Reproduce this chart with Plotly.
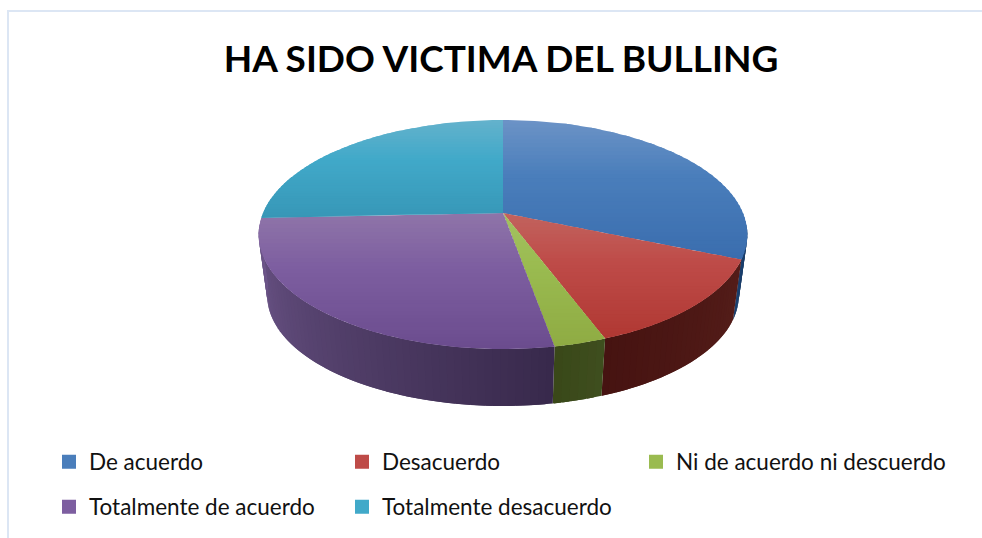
import math
import plotly.graph_objects as go

# ---- data ----
categories = ["De acuerdo", "Desacuerdo", "Ni de acuerdo ni descuerdo",
              "Totalmente de acuerdo", "Totalmente desacuerdo"]
values = [31.4, 12.9, 2.9, 27.1, 25.7]
title_text = "HA SIDO VICTIMA DEL BULLING"

# ---- styles ----
top_light = ["#6C93C6", "#C2635E", "#A3C162", "#8F75A9", "#64B2CC"]
top_mid = ["#4A7EBB", "#BE4B48", "#9ABB50", "#7D5EA0", "#41A9C9"]
top_dark = ["#3A6DAE", "#B03833", "#8FAB43", "#6B4C8E", "#3797B7"]
side_a = ["#16365C", "#541D19", "#3F4E1E", "#38294C", "#205867"]   # rim shade at the start of the slice
side_b = ["#1B4070", "#461311", "#394819", "#6D5689", "#205867"]   # rim shade at the end of the slice
frame_color = "#DCE6F4"
legend_x_px = [49, 342, 636, 49, 342]
legend_y_px = [462, 462, 462, 507, 507]

# ---- projection of the disc ----
CX, R, B = 503.0, 240.0, 0.188
TOP = dict(y0=213.0, a=110.5, r=R)
BOT = dict(y0=274.7, a=106.6, r=R * 0.965)


def project(theta_deg, face):
    t = math.radians(theta_deg)
    u, v = math.sin(t), -math.cos(t)
    d = 1 - B * v
    return CX + face["r"] * u / d, face["y0"] + face["a"] * v / d


def hex_rgb(c):
    return tuple(int(c[i:i + 2], 16) for i in (1, 3, 5))


def mix(c1, c2, t):
    a, b = hex_rgb(c1), hex_rgb(c2)
    return "rgb(%d,%d,%d)" % tuple(round(a[i] + (b[i] - a[i]) * t) for i in range(3))


def clip_y(poly, lo, hi):
    def clip(pts, keep, cut):
        out = []
        for i, p in enumerate(pts):
            q = pts[(i + 1) % len(pts)]
            if keep(p):
                out.append(p)
            if keep(p) != keep(q):
                f = (cut - p[1]) / (q[1] - p[1])
                out.append((p[0] + (q[0] - p[0]) * f, cut))
        return out
    res = clip(poly, lambda p: p[1] >= lo, lo)
    if res:
        res = clip(res, lambda p: p[1] <= hi, hi)
    return res


def patch(pts, color):
    xs = [p[0] for p in pts] + [pts[0][0]]
    ys = [p[1] for p in pts] + [pts[0][1]]
    return go.Scatter(x=xs, y=ys, mode="lines", fill="toself", fillcolor=color,
                      line=dict(width=0), hoverinfo="skip", showlegend=False)


total = sum(values)
bounds = [0.0]
for val in values:
    bounds.append(bounds[-1] + val / total * 360)

fig = go.Figure()

# rim
for i in range(len(values)):
    lo, hi = max(bounds[i], 96.0), min(bounds[i + 1], 264.0)
    if hi <= lo:
        continue
    steps = max(2, int((hi - lo) / 1.5))
    for k in range(steps):
        t0 = lo + (hi - lo) * k / steps
        t1 = min(hi, lo + (hi - lo) * (k + 1) / steps + 1.5)
        color = mix(side_a[i], side_b[i], (k + 0.5) / steps)
        fig.add_trace(patch([project(t0, TOP), project(t1, TOP),
                             project(t1, BOT), project(t0, BOT)], color))

# upper face
for i in range(len(values)):
    span = bounds[i + 1] - bounds[i]
    n = max(4, int(span))
    poly = [(CX, TOP["y0"])] + [project(bounds[i] + span * k / n, TOP) for k in range(n + 1)]
    ymin = min(p[1] for p in poly)
    ymax = max(p[1] for p in poly)
    bands = 36
    for b in range(bands):
        y0 = ymin + (ymax - ymin) * b / bands
        y1 = ymin + (ymax - ymin) * (b + 1) / bands + 2.0
        piece = clip_y(poly, y0, y1)
        if len(piece) < 3:
            continue
        t = (b + 0.5) / bands
        color = mix(top_light[i], top_mid[i], t / 0.4) if t < 0.4 else mix(top_mid[i], top_dark[i], (t - 0.4) / 0.6)
        fig.add_trace(patch(piece, color))

# legend entries: one small legend per entry so each sits in its own column
legends = {}
for i, name in enumerate(categories):
    key = "legend" if i == 0 else "legend%d" % (i + 1)
    fig.add_trace(go.Scatter(x=[None], y=[None], mode="markers", name=name,
                             marker=dict(symbol="square", size=14, color=top_mid[i]),
                             legend=key, hoverinfo="skip"))
    legends[key] = dict(orientation="h", xanchor="left", yanchor="middle",
                        x=legend_x_px[i] / 982, y=1 - legend_y_px[i] / 538,
                        bgcolor="rgba(0,0,0,0)",
                        font=dict(family="Lato", size=22.5, color="#111111"))

fig.update_layout(
    width=982, height=538, margin=dict(l=0, r=0, t=0, b=0),
    paper_bgcolor="white", plot_bgcolor="white",
    title=dict(text="<b>%s</b>" % title_text, x=501 / 982, xanchor="center",
               y=1 - 59 / 538, yanchor="middle",
               font=dict(family="Lato", size=37, color="#000000")),
    xaxis=dict(range=[0, 982], visible=False, fixedrange=True),
    yaxis=dict(range=[538, 0], visible=False, fixedrange=True),
    shapes=[dict(type="rect", xref="x", yref="y", x0=8, y0=11, x1=1000, y1=560,
                 line=dict(color=frame_color, width=2), layer="below")],
    **legends,
)

fig.write_html("out.html", config=dict(displayModeBar=False),
               post_script="document.body.style.margin='0';")
